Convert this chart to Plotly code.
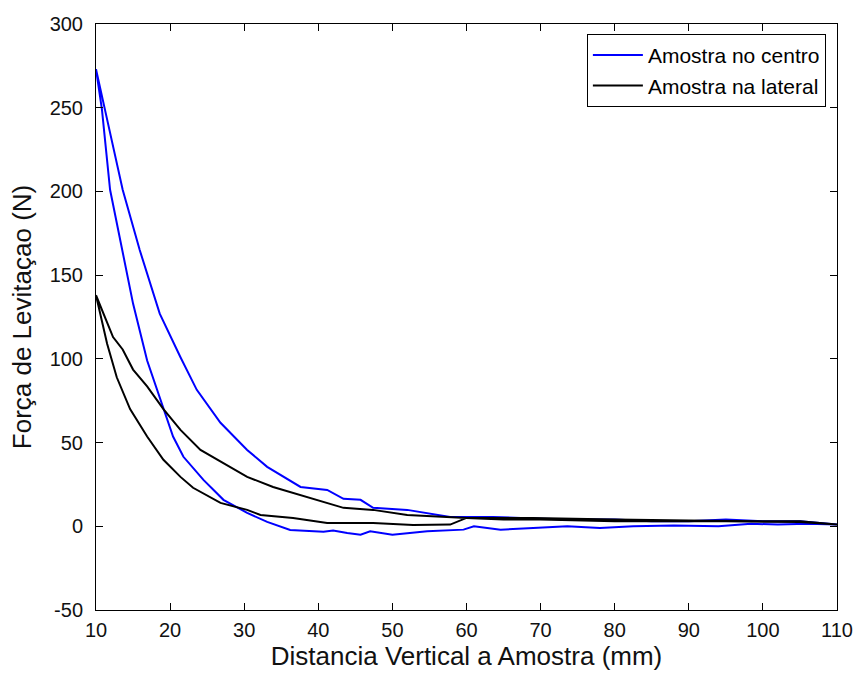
import plotly.graph_objects as go

# Amostra no centro (blue) - loop: lower branch forward, upper branch back
centro_x = [10, 10.8, 11.9, 13.5, 15, 16.9, 19.1, 20.4, 21.8, 24.5, 27.2, 30.4, 33.1, 36.2,
            40.7, 42, 43.9, 45.7, 47, 50, 54.7, 59.6, 61, 64.6, 69, 73.6, 78, 82.5, 88, 94,
            98.4, 102, 106, 110,
            105, 100, 95, 90, 85, 80, 75, 70, 63.6, 57.8, 52, 47.4, 45.7, 43.4, 41.2, 37.6,
            33.1, 30.4, 26.8, 23.6, 21.4, 18.6, 15.9, 13.6, 11.2, 10]
centro_y = [273, 249, 201, 165, 133, 99, 70, 53.6, 41.5, 27.7, 15.8, 8, 2.6, -2.2,
            -3.3, -2.5, -4, -5, -3, -5, -3, -2, 0, -2, -1, 0, -1, 0, 0.5, 0,
            1.5, 1, 1.5, 1,
            3, 3, 4, 3, 3, 4, 4, 4.5, 5.6, 5.6, 9.8, 11, 15.8, 16.4, 21.7, 23.5,
            35.5, 45.6, 61.8, 81.5, 101, 127, 165, 201, 249, 273]

# Amostra na lateral (black)
lateral_x = [10, 11.5, 12.8, 14.6, 16.9, 19.1, 21.4, 23.1, 26.8, 30.4, 32.2, 36.6, 41.2,
             47.4, 52.8, 57.8, 60, 65, 70, 75, 80, 85, 90, 95, 105, 110,
             105, 100, 90, 80, 69, 60, 52, 47.4, 43.4, 41.2, 37.6, 33.9, 30.4, 27.2, 24.1,
             21.4, 19.1, 16.9, 15, 13.6, 12.3, 10]
lateral_y = [138, 109, 89, 70, 53.6, 39.7, 29.5, 23, 14, 9.8, 6.8, 5, 2,
             2, 0.8, 1, 5, 4, 4, 3.5, 3, 3, 3, 3, 2.5, 1,
             3, 3, 3.5, 4, 5, 5, 6.8, 9.8, 11, 14, 18.8, 23.5, 29.5, 37.8, 45.6,
             57.6, 70, 83.5, 93.6, 105.6, 113, 138]

x_ticks = [10, 20, 30, 40, 50, 60, 70, 80, 90, 100, 110]
x_labels = ["10", "20", "30", "40", "50", "60", "70", "80", "90", "100", "110"]
y_ticks = [-50, 0, 50, 100, 150, 200, 250, 300]
y_labels = ["-50", "0", "50", "100", "150", "200", "250", "300"]

FONT = "Liberation Sans, Arial, sans-serif"

fig = go.Figure()
fig.add_trace(go.Scatter(x=centro_x, y=centro_y, mode="lines", name="Amostra no centro",
                         line=dict(color="#0000FF", width=2)))
fig.add_trace(go.Scatter(x=lateral_x, y=lateral_y, mode="lines", name="Amostra na lateral",
                         line=dict(color="#000000", width=2)))

axis_common = dict(showgrid=False, zeroline=False, showline=True, linecolor="black",
                   linewidth=1, mirror="allticks", ticks="inside", ticklen=7,
                   automargin=False,
                   tickcolor="black", tickfont=dict(family=FONT, size=20, color="#111111"))

fig.update_layout(
    width=856, height=675,
    margin=dict(l=96, r=19, t=24, b=65),
    paper_bgcolor="white", plot_bgcolor="white",
    showlegend=True,
    legend=dict(x=0.985, y=0.983, xanchor="right", yanchor="top",
                bgcolor="white", bordercolor="black", borderwidth=1,
                itemwidth=50, tracegroupgap=2,
                entrywidth=260, entrywidthmode="pixels",
                font=dict(family=FONT, size=21, color="black")),
    xaxis=dict(range=[10, 110], tickvals=x_ticks, ticktext=x_labels, ticklabelstandoff=2,
               title=dict(text="Distancia Vertical a Amostra (mm)",
                          font=dict(family=FONT, size=26, color="#111111"), standoff=4),
               **axis_common),
    yaxis=dict(range=[-50, 300], tickvals=y_ticks, ticktext=y_labels, ticklabelstandoff=8,
               title=dict(text="Força de Levitaçao (N)",
                          font=dict(family=FONT, size=26, color="#111111"), standoff=10),
               **axis_common),
)

fig.write_html("out.html")
